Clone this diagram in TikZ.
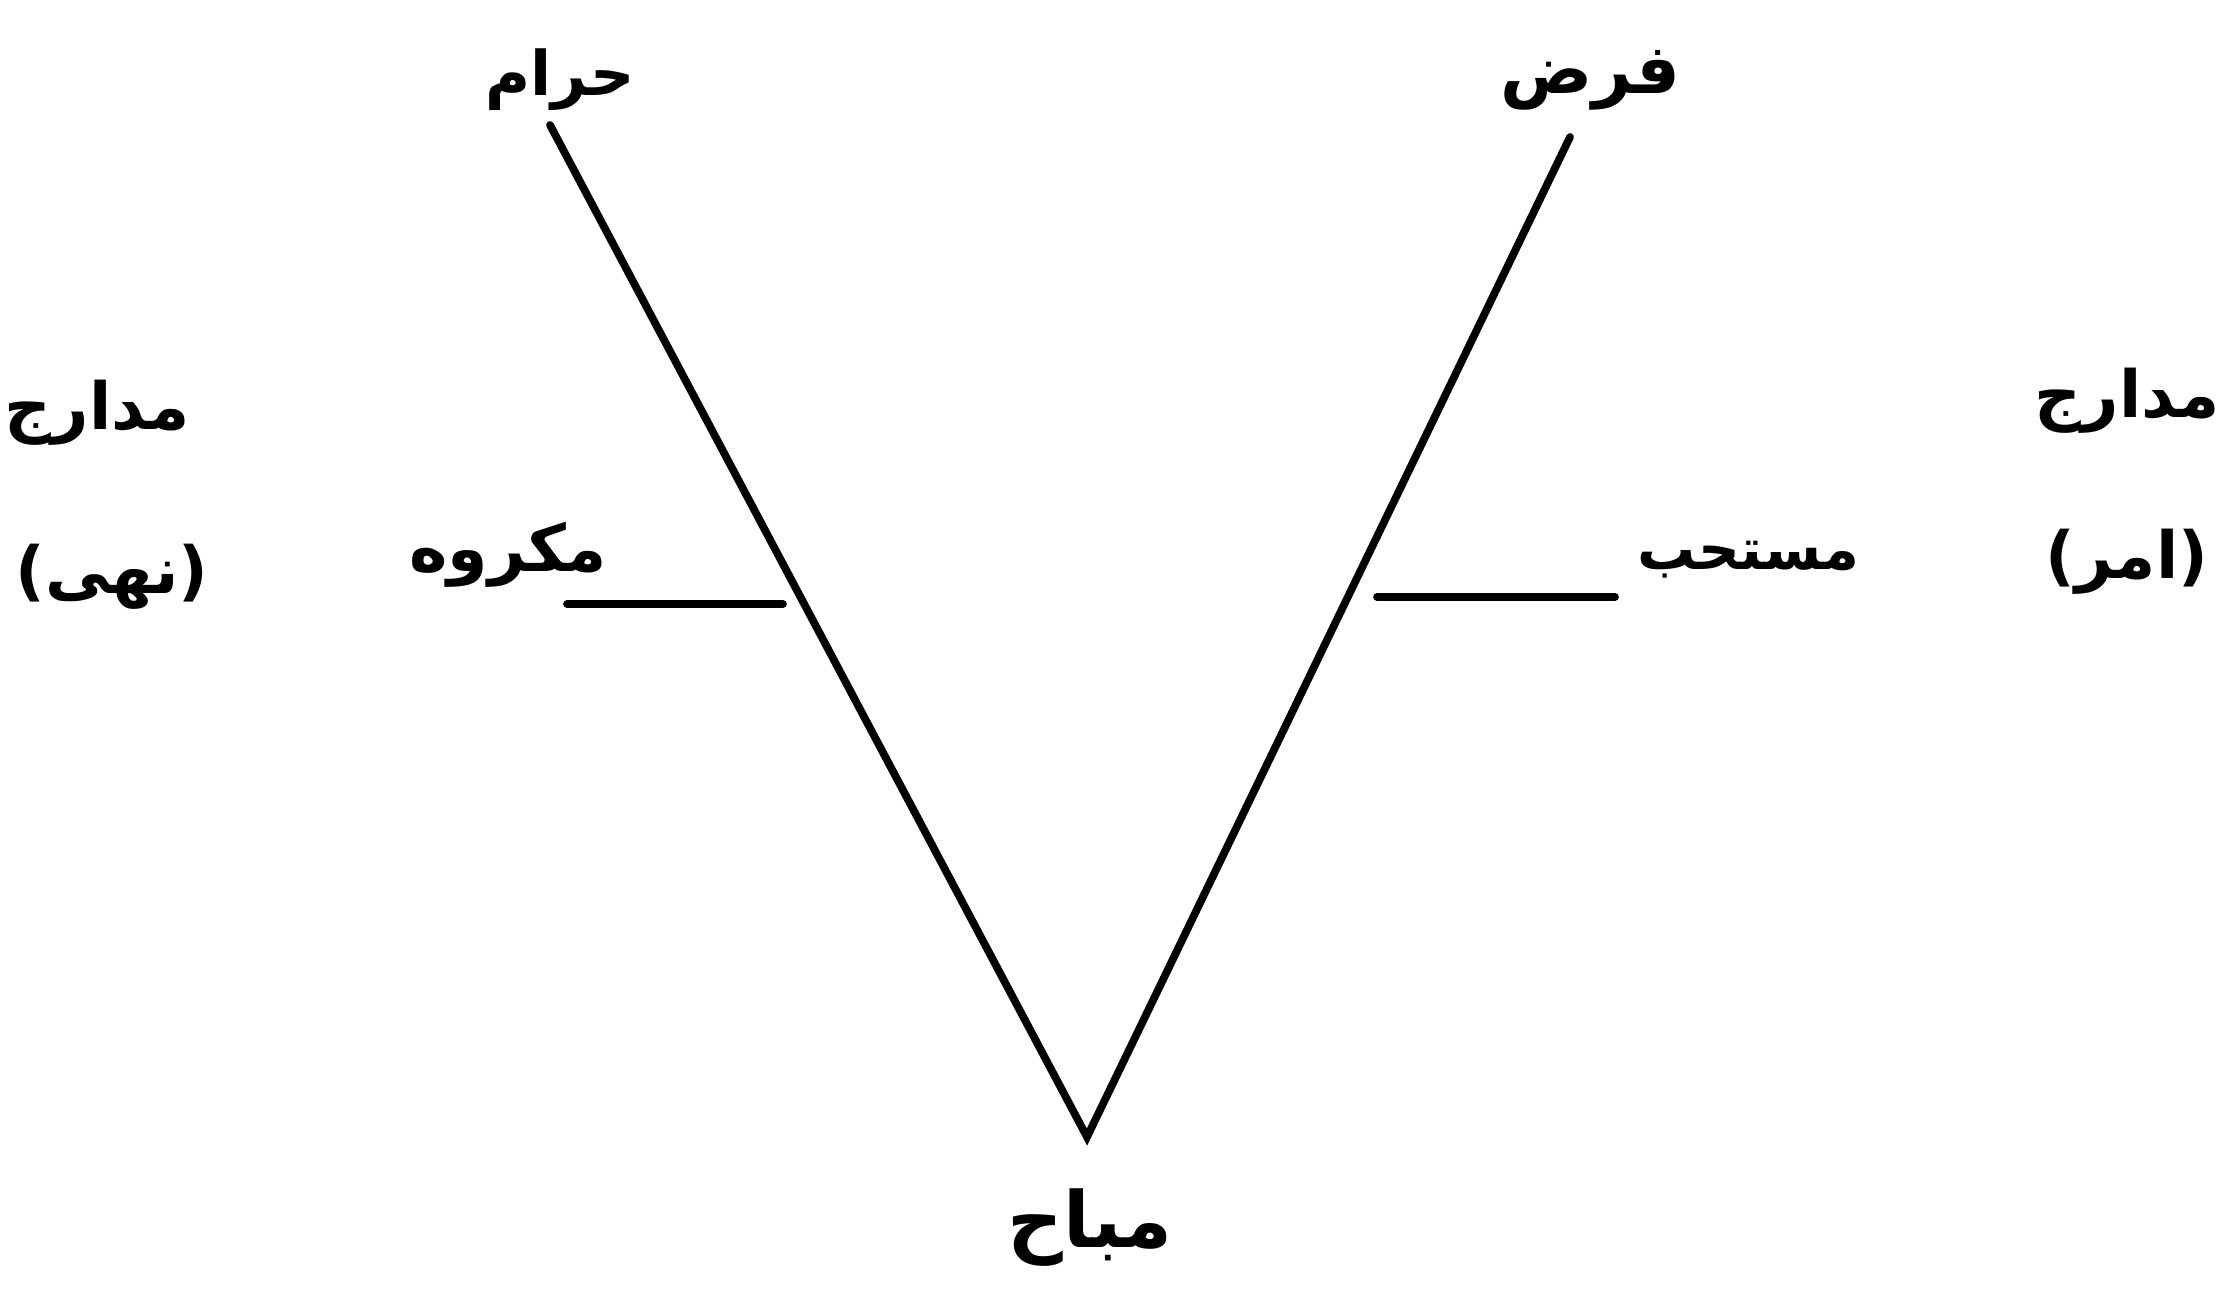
\documentclass[tikz,border=0pt]{standalone}
\usepackage{fontspec}
\newfontfamily\arabicfont[Script=Arabic]{DejaVu Sans}
\TeXXeTstate=1
\begin{document}
\begin{tikzpicture}[x=0.01cm,y=-0.01cm,
  lbl/.style={inner sep=0pt,font=\arabicfont\bfseries\fontsize{#1}{#1}\selectfont},
  lbl/.default=18.5,
  stroke/.style={line width=2.2pt,line cap=round}]
\useasboundingbox[fill=white] (0,0) rectangle (2231,1289);
% labels
\node[lbl=17.5] (haram) at (560,80) {\beginR حرام\endR};
\node[lbl=19.5] (farz) at (1590,80) {\beginR فرض\endR};
\node[lbl] (madarijL) at (97,413) {\beginR مدارج\endR};
\node[lbl] (nahi) at (112,577) {\beginR (نهی)\endR};
\node[lbl] (makruh) at (508,555) {\beginR مکروه\endR};
\node[lbl=16.5] (mustahab) at (1748,560) {\beginR مستحب\endR};
\node[lbl] (madarijR) at (2127,401) {\beginR مدارج\endR};
\node[lbl] (amr) at (2127,562) {\beginR (امر)\endR};
\node[lbl=22] (mubah) at (1090,1228) {\beginR مباح\endR};
% line ends
\coordinate (tl) at (550,125);
\coordinate (tr) at (1570,137);
\coordinate (apex) at (1087,1137);
\coordinate (hl1) at (567,604);
\coordinate (hl2) at (783,604);
\coordinate (hr1) at (1377,597);
\coordinate (hr2) at (1615,597);
\draw[stroke] (tl) -- (apex) -- (tr);
\draw[stroke] (hl1) -- (hl2);
\draw[stroke] (hr1) -- (hr2);
\end{tikzpicture}
\end{document}
